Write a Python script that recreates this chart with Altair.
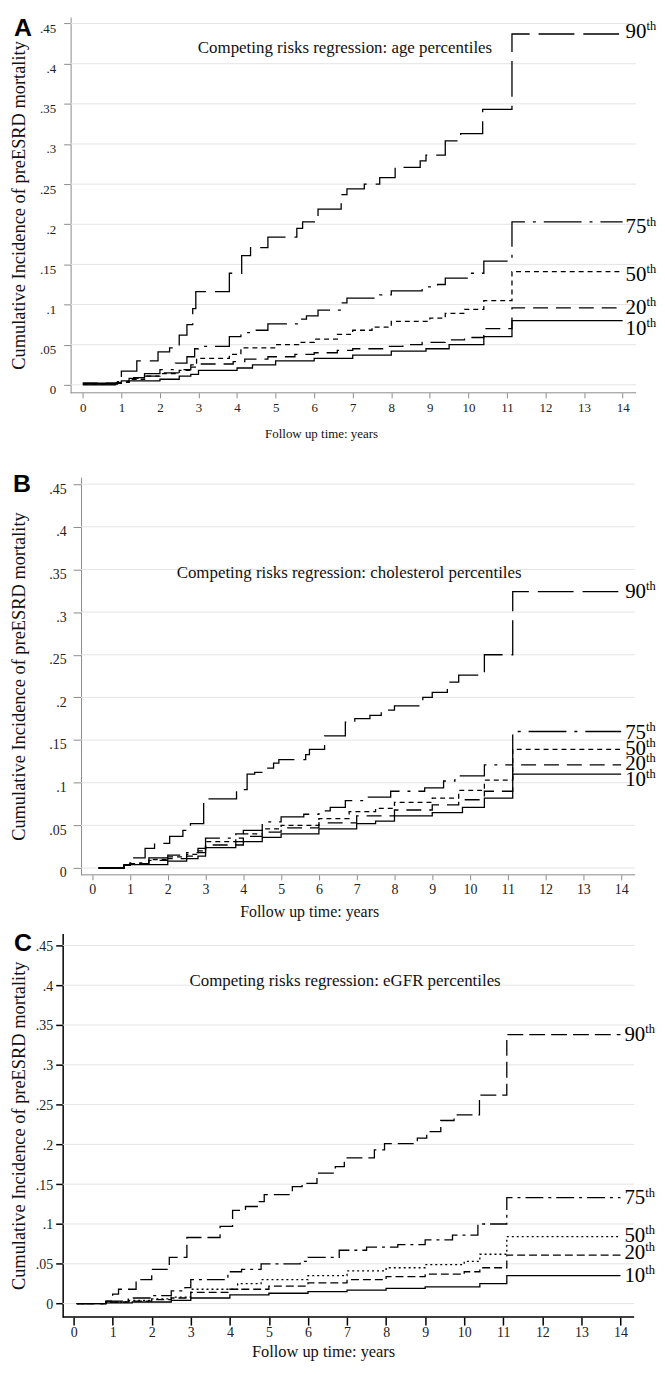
import altair as alt
import pandas as pd

SERIF = "Liberation Serif"
SANS = "Liberation Sans"

SERIES = ["90", "75", "50", "20", "10"]
X_TICKS = list(range(15))
Y_TICKS = [0, 0.05, 0.1, 0.15, 0.2, 0.25, 0.3, 0.35, 0.4, 0.45]
X_TITLE = "Follow up time: years"
Y_TITLE = "Cumulative Incidence of preESRD mortality"

# ---------------- Panel A: age percentiles ----------------
A_SUB = "Competing risks regression: age percentiles"
A_SUB_XY = [6.8, 0.42]
A_T90 = [0, 0.95, 1.0, 1.4, 1.95, 2.25, 2.5, 2.7, 2.85, 2.93, 3.8, 4.12, 4.35, 4.8, 5.55, 5.7, 6.1, 6.7, 6.85, 7.3, 7.7, 8.1, 8.75, 8.9, 9.4, 9.8, 10.37, 11.13, 14]
A_V90 = [0.002, 0.008, 0.017, 0.030, 0.041, 0.046, 0.062, 0.075, 0.095, 0.116, 0.139, 0.161, 0.171, 0.184, 0.195, 0.203, 0.219, 0.237, 0.244, 0.250, 0.258, 0.271, 0.279, 0.286, 0.304, 0.313, 0.343, 0.437, 0.437]
A_T75 = [0, 0.9, 1.2, 1.6, 2.0, 2.4, 2.7, 2.9, 3.0, 3.8, 4.1, 4.4, 4.8, 5.6, 5.8, 6.1, 6.7, 6.85, 7.7, 8.0, 8.8, 9.2, 9.4, 10.0, 10.4, 11.13, 14]
A_V75 = [0.001, 0.004, 0.009, 0.014, 0.019, 0.027, 0.035, 0.045, 0.048, 0.060, 0.065, 0.068, 0.076, 0.082, 0.086, 0.093, 0.102, 0.108, 0.112, 0.117, 0.122, 0.125, 0.133, 0.139, 0.154, 0.203, 0.203]
A_T50 = [0, 0.9, 1.2, 1.6, 2.0, 2.5, 2.8, 2.95, 3.8, 4.1, 5.0, 5.6, 6.0, 6.6, 7.0, 7.5, 8.0, 9.0, 9.4, 9.9, 10.4, 11.13, 14]
A_V50 = [0.001, 0.003, 0.007, 0.011, 0.014, 0.018, 0.025, 0.033, 0.038, 0.046, 0.050, 0.053, 0.057, 0.063, 0.068, 0.072, 0.079, 0.083, 0.089, 0.094, 0.105, 0.141, 0.141]
A_T20 = [0, 0.9, 1.2, 1.6, 2.0, 2.5, 2.8, 3.0, 3.9, 4.2, 4.8, 5.5, 6.0, 6.6, 7.0, 7.8, 8.3, 8.8, 9.4, 9.9, 10.4, 11.13, 14]
A_V20 = [0.002, 0.004, 0.008, 0.011, 0.015, 0.019, 0.022, 0.026, 0.029, 0.032, 0.035, 0.038, 0.040, 0.043, 0.045, 0.048, 0.050, 0.053, 0.056, 0.059, 0.070, 0.096, 0.096]
A_T10 = [0, 0.85, 1.0, 2.0, 2.5, 2.8, 3.0, 4.0, 4.4, 5.0, 6.0, 7.0, 8.0, 8.9, 9.5, 10.4, 11.13, 14]
A_V10 = [0.0, 0.002, 0.005, 0.007, 0.011, 0.013, 0.018, 0.021, 0.025, 0.030, 0.033, 0.037, 0.042, 0.045, 0.050, 0.060, 0.080, 0.080]
A_LAB_Y = [0.440, 0.196, 0.137, 0.096, 0.069]

# ---------------- Panel B: cholesterol percentiles ----------------
B_SUB = "Competing risks regression: cholesterol percentiles"
B_SUB_XY = [6.8, 0.346]
B_T90 = [0.17, 0.84, 1.0, 1.4, 1.65, 2.05, 2.4, 2.6, 2.95, 3.82, 4.1, 4.3, 4.6, 4.8, 4.94, 5.65, 5.75, 6.15, 6.7, 6.95, 7.35, 7.65, 8.0, 8.75, 9.0, 9.4, 9.7, 10.38, 11.13, 14]
B_V90 = [0.0, 0.004, 0.012, 0.023, 0.029, 0.037, 0.044, 0.052, 0.081, 0.092, 0.110, 0.112, 0.117, 0.123, 0.127, 0.133, 0.139, 0.155, 0.171, 0.175, 0.179, 0.185, 0.190, 0.200, 0.206, 0.218, 0.226, 0.250, 0.324, 0.324]
B_T75 = [0.17, 0.84, 1.0, 1.5, 2.0, 2.5, 2.8, 3.0, 3.8, 4.0, 4.5, 5.0, 5.6, 6.0, 6.3, 6.7, 7.2, 7.9, 8.8, 9.3, 9.6, 10.38, 11.13, 14]
B_V75 = [0.0, 0.003, 0.006, 0.012, 0.015, 0.018, 0.023, 0.035, 0.040, 0.044, 0.054, 0.060, 0.063, 0.067, 0.071, 0.079, 0.083, 0.090, 0.094, 0.102, 0.108, 0.121, 0.160, 0.160]
B_T50 = [0.17, 0.84, 1.0, 1.5, 2.0, 2.5, 2.8, 3.0, 3.8, 4.0, 4.5, 5.0, 6.0, 6.8, 7.5, 8.0, 9.0, 9.7, 10.38, 11.13, 14]
B_V50 = [0.0, 0.003, 0.005, 0.010, 0.013, 0.016, 0.020, 0.031, 0.035, 0.040, 0.046, 0.050, 0.058, 0.066, 0.070, 0.077, 0.082, 0.091, 0.103, 0.139, 0.139]
B_T20 = [0.17, 0.84, 1.0, 1.5, 2.0, 2.5, 2.8, 3.0, 3.8, 4.0, 4.5, 5.0, 6.0, 7.0, 8.0, 9.0, 9.7, 10.38, 11.13, 14]
B_V20 = [0.0, 0.003, 0.005, 0.009, 0.011, 0.014, 0.018, 0.027, 0.031, 0.037, 0.042, 0.047, 0.053, 0.061, 0.068, 0.074, 0.080, 0.090, 0.121, 0.121]
B_T10 = [0.17, 0.84, 1.0, 2.0, 2.5, 2.8, 3.0, 3.8, 4.0, 4.5, 5.0, 6.0, 7.0, 7.5, 8.0, 9.0, 9.8, 10.38, 11.13, 14]
B_V10 = [0.0, 0.003, 0.004, 0.008, 0.011, 0.014, 0.024, 0.027, 0.031, 0.036, 0.040, 0.046, 0.052, 0.055, 0.061, 0.065, 0.071, 0.082, 0.110, 0.110]
B_LAB_Y = [0.323, 0.158, 0.140, 0.122, 0.103]

# ---------------- Panel C: eGFR percentiles ----------------
C_SUB = "Competing risks regression: eGFR percentiles"
C_SUB_XY = [6.95, 0.405]
C_T90 = [0.08, 0.83, 1.0, 1.15, 1.6, 2.0, 2.45, 2.9, 3.75, 4.07, 4.4, 4.75, 4.88, 5.6, 5.85, 6.23, 6.7, 6.93, 7.7, 7.96, 8.8, 9.04, 9.4, 9.74, 10.39, 11.09, 14]
C_V90 = [0.0, 0.003, 0.012, 0.018, 0.030, 0.043, 0.058, 0.083, 0.097, 0.117, 0.122, 0.128, 0.137, 0.147, 0.151, 0.164, 0.172, 0.183, 0.193, 0.201, 0.208, 0.216, 0.230, 0.237, 0.262, 0.338, 0.338]
C_T75 = [0.08, 0.83, 1.4, 2.0, 2.5, 2.85, 3.0, 3.95, 4.3, 4.8, 5.8, 6.0, 6.8, 7.5, 8.3, 9.0, 9.7, 10.35, 11.09, 14]
C_V75 = [0.0, 0.003, 0.007, 0.010, 0.016, 0.020, 0.030, 0.040, 0.043, 0.050, 0.053, 0.058, 0.067, 0.071, 0.074, 0.080, 0.086, 0.100, 0.133, 0.133]
C_T50 = [0.08, 0.83, 1.4, 2.0, 2.5, 3.0, 4.2, 4.8, 6.0, 7.0, 8.0, 9.0, 10.0, 10.4, 11.09, 14]
C_V50 = [0.0, 0.002, 0.004, 0.006, 0.008, 0.018, 0.025, 0.030, 0.035, 0.041, 0.045, 0.049, 0.053, 0.062, 0.084, 0.084]
C_T20 = [0.08, 0.83, 1.4, 2.0, 2.5, 3.0, 4.0, 5.0, 6.0, 7.0, 8.0, 9.0, 10.0, 10.4, 11.09, 14]
C_V20 = [0.0, 0.002, 0.003, 0.005, 0.007, 0.014, 0.018, 0.022, 0.026, 0.030, 0.034, 0.037, 0.040, 0.045, 0.061, 0.061]
C_T10 = [0.08, 0.83, 1.5, 2.5, 3.0, 4.0, 5.0, 6.0, 7.0, 8.0, 9.0, 10.4, 11.09, 14]
C_V10 = [0.0, 0.001, 0.002, 0.004, 0.007, 0.011, 0.013, 0.015, 0.017, 0.019, 0.021, 0.025, 0.035, 0.035]
C_LAB_Y = [0.338, 0.132, 0.085, 0.063, 0.035]

Y_LABEL_EXPR = "datum.value == 0 ? '0' : replace(format(datum.value, '.2~f'), '0.', '.')"


def make_panel(letter, series, dashes, lab_y, subtitle, sub_xy, g):
    xs = alt.Scale(domain=g["xdom"], nice=False, zero=False)
    ys = alt.Scale(domain=g["ydom"], nice=False, zero=False)
    xaxis = alt.Axis(
        values=X_TICKS, title=X_TITLE, grid=False, domain=False,
        tickColor=g["axc"], tickWidth=g["axw"],
        tickSize=g["xtick"], labelFont=SERIF, labelFontSize=g["xlab"], labelColor="#222",
        labelPadding=g["xlabpad"], titleFont=SERIF, titleFontSize=g["xtitle"],
        titleFontWeight="normal", titleColor="#111", titleX=g["xtitle_x"], titleY=g["xtitle_y"],
        titleBaseline="middle", titleAlign="center",
    )
    yaxis = alt.Axis(
        values=Y_TICKS, labelExpr=Y_LABEL_EXPR, grid=False, offset=g["yaxoff"],
        domainColor=g["axc"], domainWidth=g["axw"], tickColor=g["axc"], tickWidth=g["axw"],
        tickSize=g["ytick"], labelFont=SERIF, labelFontSize=g["ylab"], labelColor="#222",
        labelPadding=g["ylabpad"], labelOffset=g["yoff"], title=Y_TITLE, titleFont=SERIF,
        titleFontSize=g["ytitle"], titleFontWeight="normal", titleColor="#111",
        titleX=g["ytitle_x"], titleY=g["h"] / 2, titleAngle=270, titleBaseline="middle",
        titleAlign="center",
    )
    X = lambda f: alt.X(f, scale=xs, axis=xaxis)
    Y = lambda f: alt.Y(f, scale=ys, axis=yaxis)
    layers = []
    # horizontal gridlines, starting at the y-axis line
    grid_df = pd.DataFrame({"v": Y_TICKS, "x0": [g["xaxis0"]] * len(Y_TICKS)})
    layers.append(
        alt.Chart(grid_df).mark_rule(color="#e4e4e4", strokeWidth=1).encode(
            x=X("x0:Q"), x2=alt.value(g["w"]), y=Y("v:Q"))
    )
    # x-axis baseline, starting at the y-axis line
    base_df = pd.DataFrame({"x0": [g["xaxis0"]]})
    layers.append(
        alt.Chart(base_df).mark_rule(color=g["axc"], strokeWidth=g["axw"]).encode(
            x=X("x0:Q"), x2=alt.value(g["w"]), y=alt.value(g["h"]))
    )
    for (t, v), dash in zip(series, dashes):
        df = pd.DataFrame({"t": t, "v": v})
        kw = dict(interpolate="step-after", color="black", strokeWidth=1.3, strokeCap="butt")
        if dash:
            kw["strokeDash"] = dash
        layers.append(alt.Chart(df).mark_line(**kw).encode(x=X("t:Q"), y=Y("v:Q")))
    lab_df = pd.DataFrame({"n": SERIES, "y": lab_y, "x": [s[0][-1] for s in series]})
    layers.append(
        alt.Chart(lab_df).mark_text(align="left", baseline="middle", dx=g["ldx"], fontSize=21,
                                    font=SERIF, color="black").encode(
            x=X("x:Q"), y=Y("y:Q"), text="n:N")
    )
    layers.append(
        alt.Chart(lab_df).mark_text(align="left", baseline="middle", dx=g["ldx"] + 21, dy=-6,
                                    fontSize=12.5, font=SERIF, color="black").encode(
            x=X("x:Q"), y=Y("y:Q"), text=alt.value("th"))
    )
    sub_df = pd.DataFrame({"x": [sub_xy[0]], "y": [sub_xy[1]], "s": [subtitle]})
    layers.append(
        alt.Chart(sub_df).mark_text(align="center", baseline="middle", fontSize=17, font=SERIF,
                                    color="#111").encode(x=X("x:Q"), y=Y("y:Q"), text="s:N")
    )
    let_df = pd.DataFrame({"s": [letter]})
    layers.append(
        alt.Chart(let_df).mark_text(align="left", baseline="alphabetic", fontSize=25, font=SANS,
                                    fontWeight="bold", color="black").encode(
            x=alt.value(g["lx"]), y=alt.value(g["ly"]), text="s:N")
    )
    return alt.layer(*layers).properties(width=g["w"], height=g["h"])


# all plot areas start at the same page x (62); A and B axes are shifted inward
GA = dict(w=577, h=378, xdom=[-0.523, 14.35], ydom=[-0.0099, 0.458], xaxis0=-0.317, yaxoff=-8,
          axc="#8a8a8a", axw=1, xtick=5, ytick=7, xlab=13, ylab=13, xlabpad=4, ylabpad=8, yoff=5,
          xtitle=13, xtitle_x=260, xtitle_y=41, ytitle=18.5, ytitle_x=-52, lx=-49, ly=19, ldx=3)
GB = dict(w=576, h=400, xdom=[-0.782, 14.37], ydom=[-0.008, 0.458], xaxis0=-0.295, yaxoff=-18.5,
          axc="#8a8a8a", axw=1, xtick=5, ytick=8, xlab=14, ylab=14, xlabpad=3, ylabpad=7, yoff=5,
          xtitle=16, xtitle_x=248, xtitle_y=37, ytitle=18.5, ytitle_x=-62.5, lx=-50, ly=15, ldx=4)
GC = dict(w=575, h=386, xdom=[-0.28, 14.35], ydom=[-0.017, 0.465], xaxis0=-0.28, yaxoff=0,
          axc="#000000", axw=1.5, xtick=8, ytick=7, xlab=14, ylab=14, xlabpad=1, ylabpad=3, yoff=1,
          xtitle=16.5, xtitle_x=262, xtitle_y=35, ytitle=18.5, ytitle_x=-44, lx=-49, ly=18, ldx=4)

DASH_AB = [[36, 9], [38, 8, 3, 8], [5, 4], [15, 8], None]
DASH_C = [[16, 6], [18, 5, 3, 5], [2, 3], [8, 4], None]

pA = make_panel("A", [(A_T90, A_V90), (A_T75, A_V75), (A_T50, A_V50), (A_T20, A_V20), (A_T10, A_V10)],
                DASH_AB, A_LAB_Y, A_SUB, A_SUB_XY, GA)
pB = make_panel("B", [(B_T90, B_V90), (B_T75, B_V75), (B_T50, B_V50), (B_T20, B_V20), (B_T10, B_V10)],
                DASH_AB, B_LAB_Y, B_SUB, B_SUB_XY, GB)
pC = make_panel("C", [(C_T90, C_V90), (C_T75, C_V75), (C_T50, C_V50), (C_T20, C_V20), (C_T10, C_V10)],
                DASH_C, C_LAB_Y, C_SUB, C_SUB_XY, GC)

chart = alt.vconcat(alt.vconcat(pA, pB, spacing=32), pC, spacing=12).properties(
    padding={"left": 1, "top": 4, "right": 0, "bottom": 0}
).configure_view(strokeWidth=0)

chart.save("out.html", embed_options={"renderer": "svg", "actions": False})
